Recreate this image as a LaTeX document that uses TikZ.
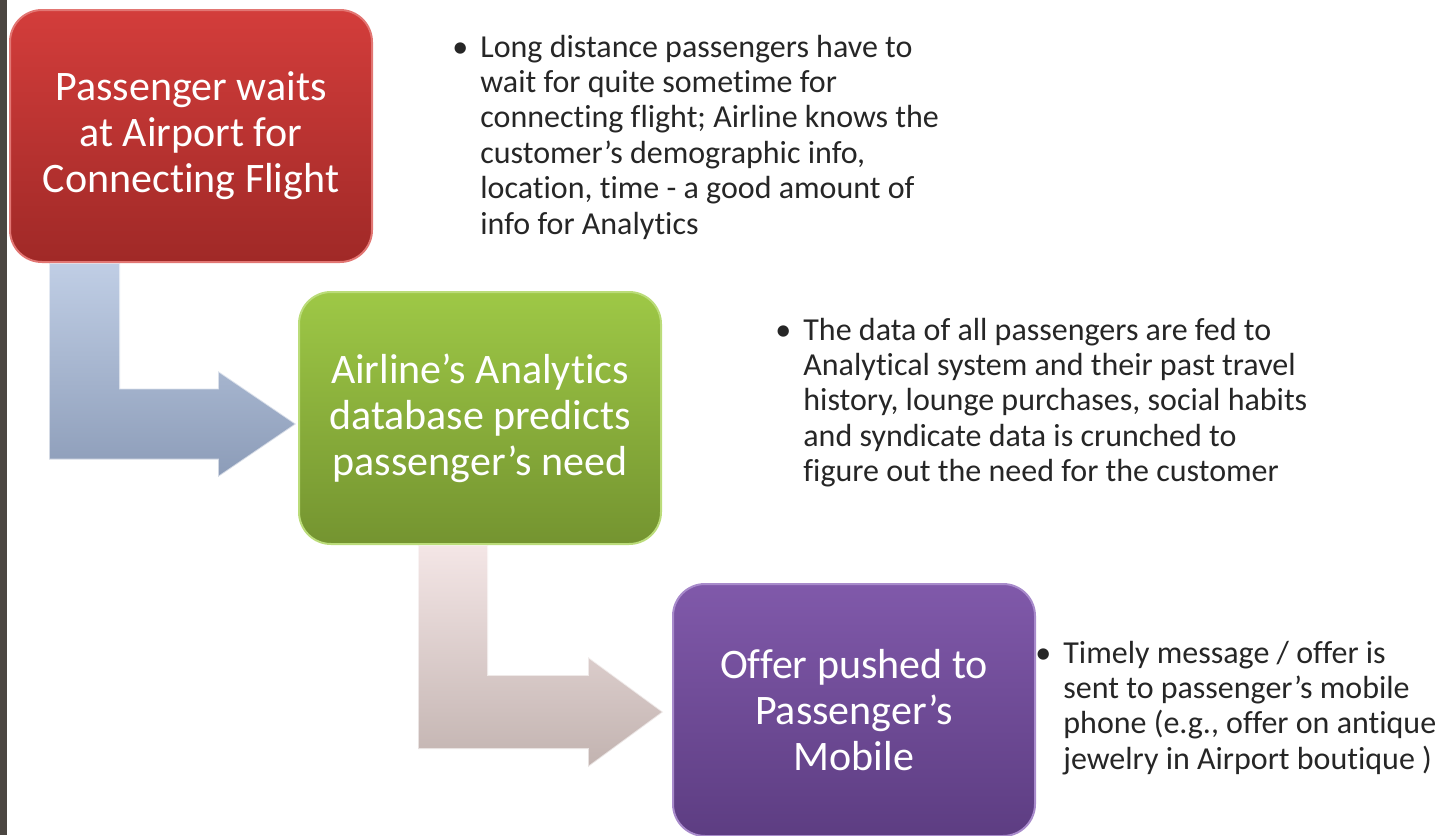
\documentclass[tikz,border=0pt]{standalone}
\usepackage{fontspec}
\setmainfont{Carlito}[Ligatures=NoCommon]
\usetikzlibrary{positioning,calc,backgrounds}

\definecolor{waitTop}{HTML}{D33D3B}
\definecolor{waitBot}{HTML}{A02927}
\definecolor{waitRim}{HTML}{E27673}
\definecolor{predTop}{HTML}{9EC846}
\definecolor{predBot}{HTML}{749430}
\definecolor{predRim}{HTML}{BBDC7A}
\definecolor{offerTop}{HTML}{8059AA}
\definecolor{offerBot}{HTML}{5D3D82}
\definecolor{offerRim}{HTML}{A88BCB}
\definecolor{flowBlueTop}{HTML}{C0CEE5}
\definecolor{flowBlueBot}{HTML}{8C9CB8}
\definecolor{flowRoseTop}{HTML}{F4E6E6}
\definecolor{flowRoseBot}{HTML}{C2B3B0}
\definecolor{frame}{HTML}{4B4641}
\definecolor{ink}{HTML}{262626}

\begin{document}
\begin{tikzpicture}[
    x=0.5pt, y=-0.5pt,
    stepbox/.style={rounded corners=16pt, minimum width=181pt, minimum height=126pt,
                    inner sep=0pt, align=center, text=white, line width=1pt,
                    font=\fontsize{21}{23}\selectfont},
    note/.style={anchor=base west, inner sep=0pt, text=ink,
                 font=\fontsize{16}{17.7}\selectfont},
    elbow/.style={line width=0.8pt, draw=white, draw opacity=0.6},
  ]
    \useasboundingbox (0,0) rectangle (1439,835);

    % the three stages
    \node[stepbox, draw=waitRim, top color=waitTop, bottom color=waitBot] (wait) at (191,136)
      {Passenger waits\\at Airport for\\Connecting Flight};
    \node[stepbox, draw=predRim, top color=predTop, bottom color=predBot,
          below right=14pt and -37.5pt of wait] (predict)
      {Airline’s Analytics\\database predicts\\passenger’s need};
    \node[stepbox, draw=offerRim, top color=offerTop, bottom color=offerBot,
          below right=19pt and 5pt of predict] (offer)
      {Offer pushed to\\Passenger’s\\Mobile};

    % bullet notes beside each stage
    \node[note] (n1) at (452,57) {\begin{tabular}[t]{@{}p{14pt}@{}l@{}}
      \textbullet & Long distance passengers have to\\
                  & wait for quite sometime for\\
                  & connecting flight; Airline knows the\\
                  & customer’s demographic info,\\
                  & location, time - a good amount of\\
                  & info for Analytics
      \end{tabular}};
    \node[note] (n2) at (775,340) {\begin{tabular}[t]{@{}p{14pt}@{}l@{}}
      \textbullet & The data of all passengers are fed to\\
                  & Analytical system and their past travel\\
                  & history, lounge purchases, social habits\\
                  & and syndicate data is crunched to\\
                  & figure out the need for the customer
      \end{tabular}};
    \node[note] (n3) at (1035,663) {\begin{tabular}[t]{@{}p{14pt}@{}l@{}}
      \textbullet & Timely message / offer is\\
                  & sent to passenger’s mobile\\
                  & phone (e.g., offer on antique\\
                  & jewelry in Airport boutique )
      \end{tabular}};

    % bent arrows between the stages
    \coordinate (s1) at ($(wait.south west)+(40,0)$);
    \coordinate (t1) at ($(predict.west)+(-2,6)$);
    \coordinate (s2) at ($(predict.south west)+(120,0)$);
    \coordinate (t2) at ($(offer.west)+(-9,2)$);
    \begin{scope}[on background layer]
      \fill[frame] (0,0) rectangle (7,835);
      \shade[elbow, top color=flowBlueTop, bottom color=flowBlueBot]
        (s1) -- ++(71,0) |- ($(t1)+(-78,-35.5)$) -- ++(0,-17.5) -- (t1)
        -- ($(t1)+(-78,53)$) -- ++(0,-17.5) -| (s1) -- cycle;
      \shade[elbow, top color=flowRoseTop, bottom color=flowRoseBot]
        (s2) -- ++(70,0) |- ($(t2)+(-75,-37)$) -- ++(0,-18) -- (t2)
        -- ($(t2)+(-75,55)$) -- ++(0,-18) -| (s2) -- cycle;
    \end{scope}
\end{tikzpicture}
\end{document}
